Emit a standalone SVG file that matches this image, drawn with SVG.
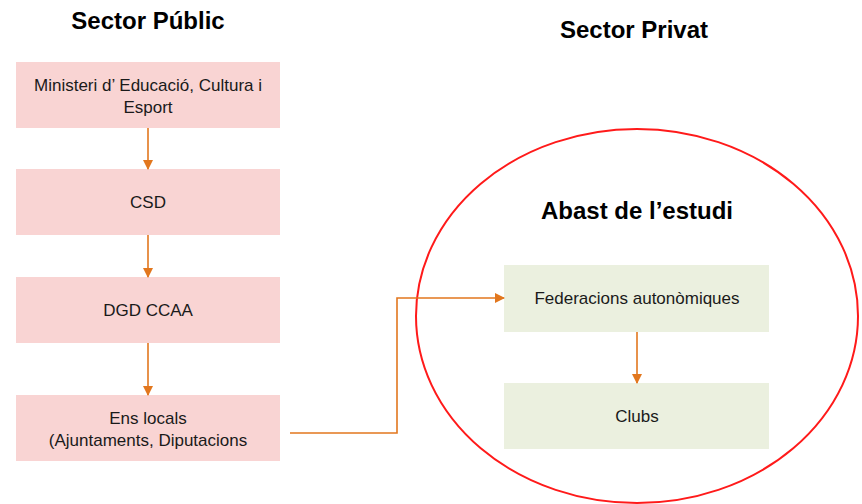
<svg xmlns="http://www.w3.org/2000/svg" width="862" height="504" viewBox="0 0 862 504">
<style>
text{font-family:"Liberation Sans",Arial,sans-serif;fill:#1a1a1a;text-anchor:middle}
.t{font-weight:bold;font-size:24px;fill:#000}
.b{font-size:17px}
.pink{fill:#F9D4D3}
.green{fill:#EBF0DF}
.c{stroke:#E2771E;stroke-width:1.6;fill:none}
</style>
<defs>
<marker id="ah" markerWidth="10" markerHeight="10" refX="9" refY="5" orient="auto" markerUnits="userSpaceOnUse">
<path d="M0,0 L10,5 L0,10 Z" fill="#E2771E"/>
</marker>
</defs>
<rect width="862" height="504" fill="#fff"/>
<text class="t" x="148" y="29">Sector Públic</text>
<text class="t" x="634" y="38">Sector Privat</text>
<g id="scope">
<ellipse cx="637" cy="316" rx="221" ry="187" fill="none" stroke="#FF1A1A" stroke-width="2"/>
<text class="t" x="637" y="219">Abast de l’estudi</text>
</g>
<g id="ministeri">
<rect class="pink" x="16" y="62" width="264" height="66"/>
<text class="b" x="148" y="91">Ministeri d’ Educació, Cultura i</text>
<text class="b" x="148" y="113">Esport</text>
</g>
<g id="csd">
<rect class="pink" x="16" y="169" width="264" height="66"/>
<text class="b" x="148" y="208">CSD</text>
</g>
<g id="dgd">
<rect class="pink" x="16" y="277" width="264" height="66"/>
<text class="b" x="148" y="316">DGD CCAA</text>
</g>
<g id="ens">
<rect class="pink" x="16" y="395" width="264" height="66"/>
<text class="b" x="148" y="424">Ens locals</text>
<text class="b" x="148" y="446">(Ajuntaments,  Diputacions</text>
</g>
<g id="federacions">
<rect class="green" x="504" y="265" width="265" height="67"/>
<text class="b" x="637" y="304">Federacions autonòmiques</text>
</g>
<g id="clubs">
<rect class="green" x="504" y="383" width="265" height="66"/>
<text class="b" x="637" y="422">Clubs</text>
</g>
<g id="connectors">
<line class="c" x1="148" y1="128" x2="148" y2="169" marker-end="url(#ah)"/>
<line class="c" x1="148" y1="235" x2="148" y2="277" marker-end="url(#ah)"/>
<line class="c" x1="148" y1="343" x2="148" y2="395" marker-end="url(#ah)"/>
<polyline class="c" points="290,433 397,433 397,298 504,298" marker-end="url(#ah)"/>
<line class="c" x1="637" y1="332" x2="637" y2="383" marker-end="url(#ah)"/>
</g>
</svg>
